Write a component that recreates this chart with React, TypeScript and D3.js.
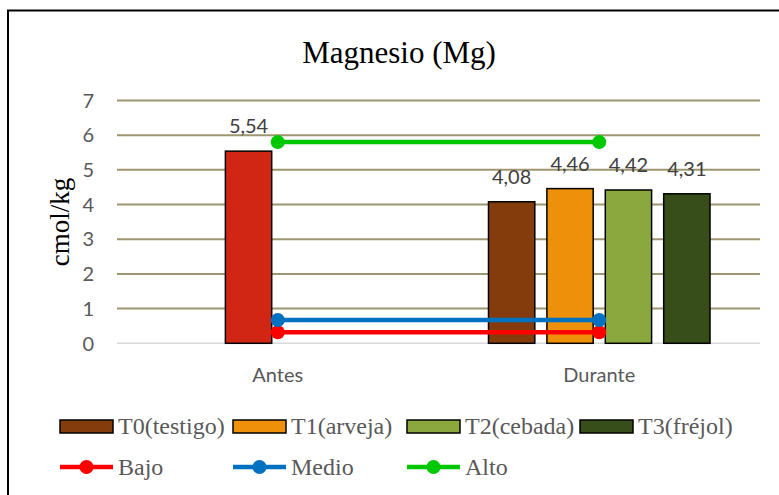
import React from 'react';
import * as d3 from 'd3';

// chart values
const categories = ['Antes', 'Durante'];
const seriesNames = ['T0(testigo)', 'T1(arveja)', 'T2(cebada)', 'T3(fréjol)'];
const seriesColors = ['#843C0C', '#EE900A', '#8BA83E', '#374E1B'];
// values per series for [Antes, Durante]; null = no bar
const seriesValues: (number | null)[][] = [
  [null, 4.08],
  [5.54, 4.46],
  [null, 4.42],
  [null, 4.31],
];
const antesColor = '#D12614';
const levelNames = ['Bajo', 'Medio', 'Alto'];
const levelColors = ['#FF0000', '#0070C0', '#00C800'];
const levelValues = [0.32, 0.67, 5.8];
const yTicks = [0, 1, 2, 3, 4, 5, 6, 7];

const W = 779;
const H = 495;
const plot = { left: 117, right: 760, top: 100.5, bottom: 343.3 };

const fmt = (v: number) => v.toFixed(2).replace('.', ',');

export default function App() {
  const x0 = d3.scaleBand().domain(categories).range([plot.left, plot.right]);
  const cluster = x0.bandwidth() * 0.7266;
  const x1 = d3
    .scaleBand()
    .domain(seriesNames)
    .range([-cluster / 2, cluster / 2])
    .paddingInner(0.207)
    .paddingOuter(0.1035);
  const y = d3.scaleLinear().domain([0, 7]).range([plot.bottom, plot.top]);
  const center = (c: string) => (x0(c) as number) + x0.bandwidth() / 2;

  const bars: { x: number; v: number; color: string; key: string }[] = [];
  seriesValues.forEach((vals, si) => {
    vals.forEach((v, ci) => {
      if (v == null) return;
      const cat = categories[ci];
      bars.push({
        x: center(cat) + (x1(seriesNames[si]) as number),
        v,
        color: cat === 'Antes' ? antesColor : seriesColors[si],
        key: `${si}-${ci}`,
      });
    });
  });

  const legendX = [60, 233, 407, 580];
  const axisFont = 'Lato, "Open Sans", sans-serif';
  const serif = '"Liberation Serif", "Times New Roman", serif';

  return (
    <svg width={W} height={H} style={{ position: 'absolute', left: 0, top: 0 }}>
      <rect x={0} y={0} width={W} height={H} fill="#fff" />
      <rect x={8} y={10.5} width={W + 20} height={H + 20} fill="none" stroke="#000" strokeWidth={2} />

      <text x={399} y={63} textAnchor="middle" fontFamily={serif} fontSize={31} fill="#000">
        Magnesio (Mg)
      </text>

      {/* gridlines */}
      {yTicks.map((t) => (
        <line
          key={t}
          x1={plot.left}
          x2={plot.right}
          y1={y(t)}
          y2={y(t)}
          stroke={t === 0 ? '#D9D9D9' : '#9E9670'}
          strokeWidth={t === 0 ? 1.5 : 2}
        />
      ))}
      {yTicks.map((t) => (
        <text
          key={'l' + t}
          x={94}
          y={y(t)}
          dy="0.36em"
          textAnchor="end"
          fontFamily={axisFont}
          fontSize={20}
          fill="#595959"
        >
          {t}
        </text>
      ))}

      <text
        transform={`translate(69,222) rotate(-90)`}
        textAnchor="middle"
        fontFamily={serif}
        fontSize={27}
        fill="#000"
      >
        cmol/kg
      </text>

      {/* bars */}
      {bars.map((b) => (
        <g key={b.key}>
          <rect
            x={b.x}
            y={y(b.v)}
            width={x1.bandwidth()}
            height={y(0) - y(b.v)}
            fill={b.color}
            stroke="#000"
            strokeWidth={1.5}
          />
          <text
            x={b.x + x1.bandwidth() / 2}
            y={y(b.v) - 18}
            textAnchor="middle"
            fontFamily={axisFont}
            fontSize={20}
            fill="#404040"
          >
            {fmt(b.v)}
          </text>
        </g>
      ))}

      {/* reference levels */}
      {levelValues.map((v, i) => (
        <g key={levelNames[i]}>
          <line
            x1={center(categories[0])}
            x2={center(categories[1])}
            y1={y(v)}
            y2={y(v)}
            stroke={levelColors[i]}
            strokeWidth={4.5}
          />
          {categories.map((c) => (
            <circle key={c} cx={center(c)} cy={y(v)} r={7} fill={levelColors[i]} />
          ))}
        </g>
      ))}

      {categories.map((c) => (
        <text
          key={c}
          x={center(c)}
          y={382}
          textAnchor="middle"
          fontFamily={axisFont}
          fontSize={20}
          fill="#595959"
        >
          {c}
        </text>
      ))}

      {/* legend */}
      {seriesNames.map((s, i) => (
        <g key={s}>
          <rect x={legendX[i]} y={420} width={53} height={13} fill={seriesColors[i]} stroke="#000" strokeWidth={1.5} />
          <text x={legendX[i] + 58} y={434} fontFamily={serif} fontSize={24} fill="#595959">
            {s}
          </text>
        </g>
      ))}
      {levelNames.map((s, i) => (
        <g key={s}>
          <line x1={legendX[i]} x2={legendX[i] + 53} y1={467} y2={467} stroke={levelColors[i]} strokeWidth={4.5} />
          <circle cx={legendX[i] + 26.5} cy={467} r={7} fill={levelColors[i]} />
          <text x={legendX[i] + 58} y={475} fontFamily={serif} fontSize={24} fill="#595959">
            {s}
          </text>
        </g>
      ))}
    </svg>
  );
}
